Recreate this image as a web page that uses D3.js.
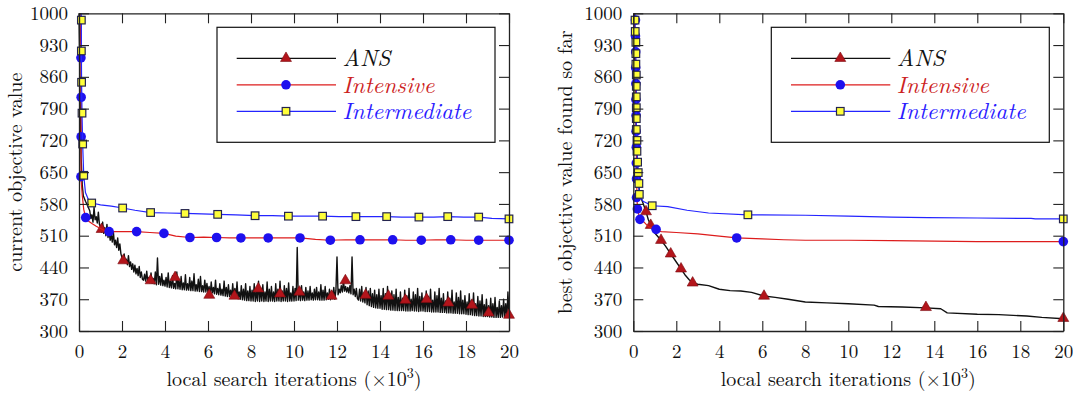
<!DOCTYPE html>
<html>
<head>
<meta charset="utf-8">
<script src="https://cdn.jsdelivr.net/npm/d3@7"></script>
<style>
  body { margin: 0; background: #fff; }
</style>
</head>
<body>
<script>
// ticks
var xTicks = [0, 2, 4, 6, 8, 10, 12, 14, 16, 18, 20];
var yTicks = [300, 370, 440, 510, 580, 650, 720, 790, 860, 930, 1000];
var seriesNames = ["ANS", "Intensive", "Intermediate"];

// ---- left panel: current objective value ----
// first fast drop of ANS, then one value every 50 iterations from x = 0.5
var ansCurStart = [[0, 1000], [0.05, 820], [0.1, 680], [0.15, 622], [0.2, 598], [0.3, 586], [0.4, 576]];
var ansCurY = [
  565, 548, 556, 540, 572, 545, 552, 538, 562, 535,
  530, 518, 540, 515, 528, 510, 535, 506, 520, 500, 512, 496, 518, 490, 500, 484, 505, 478, 492, 470,
  462, 455, 470, 450, 458, 446, 466, 442, 452, 436, 448, 430, 445, 426, 438, 422, 442, 418, 430, 414,
  412, 425, 410, 432, 408, 418, 406, 428, 405, 416, 404, 430, 402, 461, 403, 420, 401, 426, 400, 412,
  399, 418, 397, 428, 396, 410, 395, 422, 394, 405, 393, 430, 393, 412, 392, 420, 391, 406, 391, 424,
  390, 404, 390, 418, 389, 410, 389, 426, 388, 402, 388, 414, 387, 420, 387, 400, 386, 412, 386, 405,
  385, 398, 379, 408, 384, 396, 382, 412, 381, 394, 380, 404, 379, 392, 378, 410, 377, 396, 376, 402,
  376, 390, 375, 404, 374, 394, 373, 408, 371, 386, 370, 400, 369, 392, 368, 404, 367, 388, 367, 398,
  366, 390, 366, 404, 365, 388, 366, 410, 365, 394, 366, 402, 365, 386, 366, 408, 365, 392, 366, 398,
  366, 386, 365, 404, 366, 392, 366, 410, 365, 388, 366, 400, 366, 394, 365, 406, 366, 384, 366, 398,
  366, 394, 367, 484, 368, 392, 367, 400, 368, 386, 367, 396, 368, 388, 368, 398, 369, 384, 368, 392,
  369, 396, 369, 386, 368, 402, 368, 390, 368, 398, 369, 384, 370, 392, 369, 388, 371, 396, 370, 390,
  463, 380, 392, 384, 400, 386, 411, 388, 398, 386, 396, 384, 400, 382, 463, 380, 392, 376, 394, 372,
  368, 392, 366, 398, 364, 384, 362, 396, 358, 388, 356, 394, 354, 382, 352, 390, 351, 380, 350, 392,
  350, 378, 348, 394, 348, 382, 347, 398, 347, 376, 346, 388, 346, 380, 345, 392, 345, 374, 345, 386,
  345, 372, 345, 390, 344, 378, 344, 394, 344, 370, 345, 386, 344, 380, 344, 394, 343, 376, 344, 384,
  344, 372, 343, 388, 343, 376, 343, 392, 342, 368, 342, 386, 342, 378, 342, 394, 341, 372, 341, 382,
  341, 366, 340, 386, 340, 372, 340, 390, 339, 364, 339, 384, 339, 374, 338, 388, 338, 368, 338, 378,
  337, 364, 336, 382, 336, 368, 335, 384, 334, 360, 334, 376, 333, 366, 333, 380, 332, 358, 332, 370,
  332, 356, 331, 372, 331, 360, 330, 374, 330, 352, 330, 366, 330, 356, 331, 370, 331, 360, 330, 386,
  335
];
var ansCurMarks = [[1.05, 524], [2.06, 455], [3.33, 411], [4.47, 418], [6.06, 379], [7.23, 377],
  [8.34, 393], [9.35, 382], [10.25, 386], [11.75, 377], [12.39, 411], [13.33, 379], [14.39, 377],
  [15.18, 368], [16.17, 370], [17.18, 362], [18.28, 357], [19.05, 340], [20, 335]];

var intCurLine = [[0.05, 1000], [0.09, 902], [0.1, 815], [0.1, 728], [0.09, 640], [0.15, 600], [0.22, 568],
  [0.31, 550], [0.45, 542], [0.6, 537], [0.8, 531], [1.0, 526], [1.2, 521], [1.4, 519], [2.0, 519],
  [2.68, 519], [3.3, 517], [3.95, 515], [4.5, 509], [5.16, 506], [5.8, 507], [6.4, 506], [7.0, 505],
  [7.53, 505], [8.2, 505], [8.8, 505], [9.5, 505], [10.28, 505], [11.0, 502], [11.69, 500], [12.4, 501],
  [13.07, 501], [13.8, 501], [14.59, 501], [15.2, 500], [15.92, 500], [16.6, 501], [17.29, 501],
  [18.0, 500], [18.59, 500], [19.3, 500], [20, 500]];
var intCurMarks = [[0.09, 902], [0.1, 815], [0.1, 728], [0.09, 640], [0.31, 550], [1.4, 519], [2.68, 519],
  [3.95, 515], [5.16, 506], [6.4, 506], [7.53, 505], [8.8, 505], [10.28, 505], [11.69, 500], [13.07, 501],
  [14.59, 501], [15.92, 500], [17.29, 501], [18.59, 500], [20, 500]];

var medCurLine = [[0.1, 1000], [0.11, 985], [0.11, 917], [0.12, 848], [0.14, 780], [0.17, 712], [0.22, 643],
  [0.3, 605], [0.45, 588], [0.59, 582], [1.0, 578], [1.5, 575], [2.03, 571], [2.6, 566], [3.33, 561],
  [4.1, 560], [4.93, 559], [5.7, 558], [6.45, 557], [7.3, 556], [8.19, 554], [9.0, 554], [9.74, 553],
  [10.5, 553], [11.33, 553], [12.1, 552], [12.88, 552], [13.6, 552], [14.31, 552], [15.0, 551],
  [15.81, 551], [16.5, 551], [17.15, 552], [17.9, 551], [18.59, 551], [19.2, 548], [20, 547]];
var medCurMarks = [[0.11, 985], [0.11, 917], [0.12, 848], [0.14, 780], [0.17, 712], [0.22, 643], [0.59, 582],
  [2.03, 571], [3.33, 561], [4.93, 559], [6.45, 557], [8.19, 554], [9.74, 553], [11.33, 553], [12.88, 552],
  [14.31, 552], [15.81, 551], [17.15, 552], [18.59, 551], [20, 547]];

// ---- right panel: best objective value found so far ----
var ansBestLine = [[0.04, 1000], [0.1, 800], [0.2, 650], [0.3, 600], [0.45, 582], [0.59, 563], [0.7, 545],
  [0.81, 533], [1.0, 516], [1.29, 500], [1.5, 487], [1.74, 470], [2.0, 452], [2.22, 437], [2.4, 424],
  [2.6, 413], [2.76, 406], [3.0, 403], [3.5, 400], [4.0, 392], [4.5, 389], [5.0, 388], [5.5, 385],
  [6.08, 377], [6.6, 374], [7.2, 370], [8.0, 364], [9.0, 362], [10.0, 360], [11.2, 357], [11.4, 354],
  [12.5, 353], [13.61, 351], [14.3, 349], [14.6, 340], [16.0, 337], [17.0, 336], [18.3, 333],
  [19.0, 330], [20, 327]];
var ansBestMarks = [[0.59, 563], [0.81, 533], [1.29, 500], [1.74, 470], [2.22, 437], [2.76, 406],
  [6.08, 377], [13.61, 352], [20, 328]];

var intBestLine = [[0.05, 1000], [0.1, 900], [0.13, 750], [0.16, 620], [0.19, 569], [0.31, 546], [0.5, 540],
  [0.7, 530], [1.06, 524], [1.3, 519], [2.0, 517], [3.0, 514], [4.0, 509], [4.81, 505], [6.0, 503],
  [7.0, 501], [8.0, 500], [10.0, 500], [12.0, 499], [14.0, 498], [16.0, 497], [18.0, 497], [20, 497]];
var intBestMarks = [[0.1, 985], [0.1, 950], [0.11, 915], [0.11, 880], [0.12, 845], [0.12, 810], [0.13, 775],
  [0.13, 740], [0.14, 705], [0.14, 670], [0.15, 635], [0.15, 594], [0.19, 569], [0.31, 546], [1.06, 524],
  [4.81, 505], [20, 497]];

var medBestLine = [[0.08, 1000], [0.08, 985], [0.09, 960], [0.12, 936], [0.12, 911], [0.12, 888], [0.14, 864],
  [0.14, 839], [0.14, 816], [0.14, 792], [0.14, 768], [0.14, 744], [0.17, 720], [0.17, 696], [0.2, 672],
  [0.23, 649], [0.26, 625], [0.28, 601], [0.45, 586], [0.88, 576], [1.6, 574], [2.5, 566], [3.5, 560],
  [5.33, 556], [8.0, 555], [10.0, 553], [12.0, 551], [13.7, 550], [16.0, 549], [18.5, 548], [18.7, 547],
  [20, 547]];
var medBestMarks = [[0.08, 985], [0.09, 960], [0.12, 936], [0.12, 911], [0.12, 888], [0.14, 864],
  [0.14, 839], [0.14, 816], [0.14, 792], [0.14, 768], [0.14, 744], [0.17, 720], [0.17, 696], [0.2, 672],
  [0.23, 649], [0.26, 625], [0.28, 601], [0.88, 576], [5.33, 556], [20, 547]];

// Define SVG area dimensions
var svgWidth = 1073;
var svgHeight = 395;
var plotTop = 13.3;
var plotBottom = 331;
var plotWidth = 430;
var serif = "'Latin Modern Roman', 'Liberation Serif', serif";

var styles = [
  { line: "#111", fill: "#b3151b", stroke: "#7a0c10", shape: "triangle", text: "#111" },
  { line: "#dd1c1c", fill: "#1e10ee", stroke: "#1e10ee", shape: "circle", text: "#cc2222" },
  { line: "#2424ff", fill: "#ffff3a", stroke: "#24244e", shape: "square", text: "#2a1aff" }
];

var svg = d3.select("body")
  .append("svg")
  .attr("width", svgWidth)
  .attr("height", svgHeight);

var ansCurLine = ansCurStart.concat(ansCurY.map(function(v, i) {
  return [0.5 + i * 0.05, v];
}));

function drawMark(g, shape, st) {
  if (shape === "circle") {
    g.append("circle").attr("r", 4.8).attr("fill", st.fill).attr("stroke", "none");
  } else if (shape === "square") {
    g.append("rect").attr("x", -3.8).attr("y", -3.8).attr("width", 7.6).attr("height", 7.6)
      .attr("fill", st.fill).attr("stroke", st.stroke).attr("stroke-width", 1.2);
  } else {
    g.append("path").attr("d", d3.symbol(d3.symbolTriangle, 52)())
      .attr("fill", st.fill).attr("stroke", st.stroke).attr("stroke-width", 0.6);
  }
}

function drawPanel(left, yLabel, yLabelX, series) {
  var x = d3.scaleLinear().domain([0, 20]).range([left, left + plotWidth]);
  var y = d3.scaleLinear().domain([300, 1000]).range([plotBottom, plotTop]);
  var g = svg.append("g");

  var line = d3.line()
    .x(function(d) { return x(d[0]); })
    .y(function(d) { return y(d[1]); });

  series.forEach(function(s, i) {
    var st = styles[i];
    g.append("path")
      .datum(s.line)
      .attr("d", line)
      .attr("fill", "none")
      .attr("stroke", st.line)
      .attr("stroke-width", i === 0 ? 1.4 : 1.2)
      .attr("stroke-linejoin", "round");
    g.selectAll(null)
      .data(s.marks)
      .enter()
      .append("g")
      .attr("transform", function(d) { return `translate(${x(d[0])}, ${y(d[1])})`; })
      .each(function() { drawMark(d3.select(this), st.shape, st); });
  });

  // axes, ticks pointing inwards on all four sides
  g.append("g")
    .attr("transform", `translate(0, ${plotBottom})`)
    .call(d3.axisBottom(x).tickValues(xTicks).tickSize(-10).tickSizeOuter(0).tickPadding(13.5));
  g.append("g")
    .attr("transform", `translate(${left}, 0)`)
    .call(d3.axisLeft(y).tickValues(yTicks).tickFormat(d3.format("d"))
      .tickSize(-10).tickSizeOuter(0).tickPadding(11));
  g.append("g")
    .attr("transform", `translate(0, ${plotTop})`)
    .call(d3.axisTop(x).tickValues(xTicks).tickSize(-10).tickSizeOuter(0).tickFormat(""));
  g.append("g")
    .attr("transform", `translate(${left + plotWidth}, 0)`)
    .call(d3.axisRight(y).tickValues(yTicks).tickSize(-10).tickSizeOuter(0).tickFormat(""));

  g.selectAll(".domain").attr("stroke", "#222").attr("stroke-width", 1.3);
  g.selectAll(".tick line").attr("stroke", "#222").attr("stroke-width", 1.1);
  g.selectAll(".tick text")
    .style("font-family", serif)
    .style("font-size", "19px")
    .attr("fill", "#111");

  // axis titles
  var xt = g.append("text")
    .attr("x", left + plotWidth / 2)
    .attr("y", 386)
    .attr("text-anchor", "middle")
    .style("font-family", serif)
    .style("font-size", "20px")
    .attr("fill", "#111")
    .text("local search iterations (×10");
  xt.append("tspan").attr("dy", -8).style("font-size", "14px").text("3");
  xt.append("tspan").attr("dy", 8).text(")");

  g.append("text")
    .attr("transform", `translate(${yLabelX}, ${(plotTop + plotBottom) / 2}) rotate(-90)`)
    .attr("text-anchor", "middle")
    .style("font-family", serif)
    .style("font-size", "20px")
    .attr("fill", "#111")
    .text(yLabel);

  // legend
  var lg = g.append("g").attr("transform", `translate(${left + 138}, 27.3)`);
  lg.append("rect")
    .attr("width", 278)
    .attr("height", 115)
    .attr("fill", "#fff")
    .attr("stroke", "#111")
    .attr("stroke-width", 1.2);
  var rowY = [31, 57.5, 84];
  seriesNames.forEach(function(name, i) {
    var st = styles[i];
    lg.append("line")
      .attr("x1", 19.7).attr("x2", 119)
      .attr("y1", rowY[i]).attr("y2", rowY[i])
      .attr("stroke", st.line).attr("stroke-width", 1.2);
    var m = lg.append("g").attr("transform", `translate(69, ${rowY[i]})`);
    drawMark(m, st.shape, st);
    lg.append("text")
      .attr("x", 125.5)
      .attr("y", rowY[i] + 8)
      .style("font-family", serif)
      .style("font-size", "23.4px")
      .style("font-style", "italic")
      .attr("fill", st.text)
      .text(name);
  });
}

drawPanel(79, "current objective value", 22, [
  { line: ansCurLine, marks: ansCurMarks },
  { line: intCurLine, marks: intCurMarks },
  { line: medCurLine, marks: medCurMarks }
]);

drawPanel(633.3, "best objective value found so far", 572, [
  { line: ansBestLine, marks: ansBestMarks },
  { line: intBestLine, marks: intBestMarks },
  { line: medBestLine, marks: medBestMarks }
]);
</script>
</body>
</html>
